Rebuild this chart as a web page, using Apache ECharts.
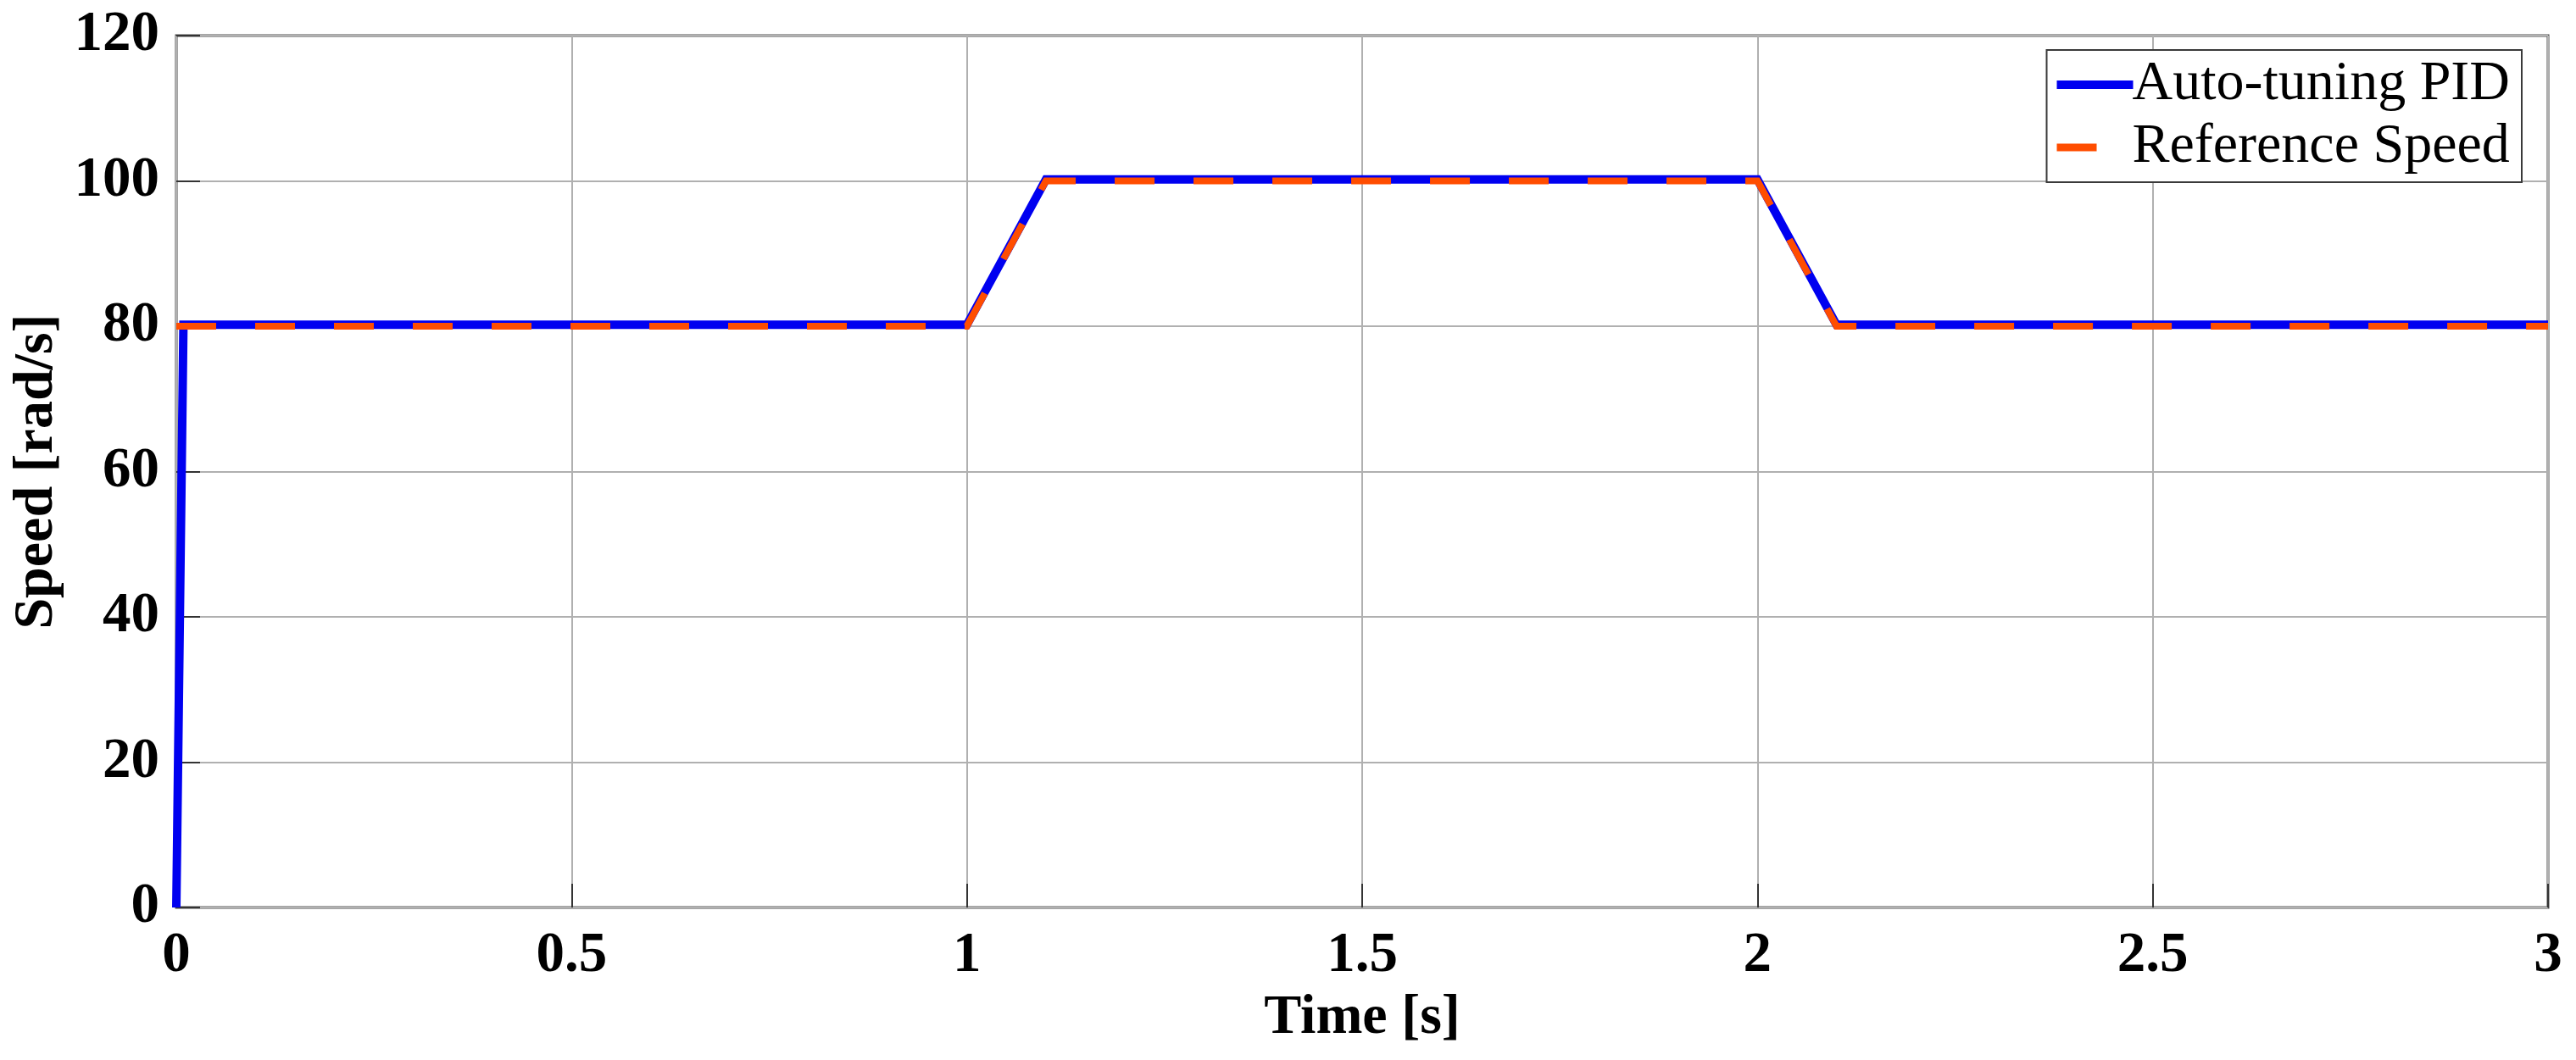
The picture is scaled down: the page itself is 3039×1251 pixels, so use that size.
<!DOCTYPE html>
<html>
<head>
<meta charset="utf-8">
<script src="https://cdn.jsdelivr.net/npm/echarts@6/dist/echarts.min.js"></script>
<style>
html,body{margin:0;padding:0;background:#fff;}
#c{width:3039px;height:1251px;}
</style>
</head>
<body>
<div id="c"></div>
<script>
// Data
const seriesNames = ['Auto-tuning PID', 'Reference Speed'];
const timeTicks = [0, 0.5, 1, 1.5, 2, 2.5, 3];
const speedTicks = [0, 20, 40, 60, 80, 100, 120];
// Auto-tuning PID response: [time (s), speed (rad/s)]
const pidTime  = [0, 0.009, 1.0, 1.1, 2.0, 2.1, 3.0];
const pidSpeed = [0, 80.2, 80.2, 100.2, 100.2, 80.2, 80.2];
// Reference speed profile
const refTime  = [0, 1.0, 1.1, 2.0, 2.1, 3.0];
const refSpeed = [80, 80, 100, 100, 80, 80];

const zip = (a, b) => a.map((v, i) => [v, b[i]]);

const chart = echarts.init(document.getElementById('c'), null, {renderer: 'canvas'});
const serifFont = "'Liberation Serif', 'Times New Roman', serif";
const blue = '#0000f0';
const orange = '#ff4d00';

chart.setOption({
  animation: false,
  backgroundColor: '#ffffff',
  grid: {
    left: 208, right: 33, top: 42, bottom: 180,
    show: true, borderColor: '#4a4a4a', borderWidth: 3, backgroundColor: 'transparent'
  },
  legend: {
    right: 64, top: 59,
    orient: 'vertical', align: 'left',
    backgroundColor: '#ffffff',
    borderColor: '#3a3a3a', borderWidth: 2,
    padding: [6, 14, 6, 7],
    itemWidth: 90, itemHeight: 10, itemGap: 4,
    textStyle: {fontFamily: serifFont, fontSize: 66, color: '#000', lineHeight: 70, padding: [0, 0, 0, -6]},
    data: [
      {name: seriesNames[0], itemStyle: {opacity: 0}, lineStyle: {color: blue, width: 10, type: 'solid', cap: 'butt'}},
      {name: seriesNames[1], itemStyle: {opacity: 0}, lineStyle: {color: orange, width: 9, type: [47, 46], cap: 'butt'}}
    ]
  },
  xAxis: {
    type: 'value', min: 0, max: 3, interval: 0.5,
    name: 'Time [s]', nameLocation: 'middle', nameGap: 98,
    nameTextStyle: {fontFamily: serifFont, fontWeight: 'bold', fontSize: 66, color: '#000'},
    axisLine: {show: false},
    axisTick: {show: true, inside: true, length: 28, lineStyle: {color: '#333', width: 2}},
    axisLabel: {fontFamily: serifFont, fontWeight: 'bold', fontSize: 67, color: '#000', margin: 24,
      formatter: v => String(v)},
    splitLine: {show: true, lineStyle: {color: '#b0b0b0', width: 2}}
  },
  yAxis: {
    type: 'value', min: 0, max: 120, interval: 20,
    name: 'Speed [rad/s]', nameLocation: 'middle', nameGap: 124,
    nameTextStyle: {fontFamily: serifFont, fontWeight: 'bold', fontSize: 66, color: '#000'},
    axisLine: {show: false},
    axisTick: {show: true, inside: true, length: 28, lineStyle: {color: '#333', width: 2}},
    axisLabel: {fontFamily: serifFont, fontWeight: 'bold', fontSize: 67, color: '#000', margin: 20},
    splitLine: {show: true, lineStyle: {color: '#b0b0b0', width: 2}}
  },
  series: [
    {
      name: seriesNames[0], type: 'line', data: zip(pidTime, pidSpeed),
      showSymbol: false, symbol: 'none', color: blue,
      lineStyle: {color: blue, width: 10, cap: 'butt', join: 'miter'},
      z: 2
    },
    {
      name: seriesNames[1], type: 'line', data: zip(refTime, refSpeed),
      showSymbol: false, symbol: 'none', color: orange,
      lineStyle: {color: orange, width: 8, type: [47, 46], cap: 'butt', join: 'miter'},
      z: 3
    }
  ]
});
</script>
</body>
</html>
